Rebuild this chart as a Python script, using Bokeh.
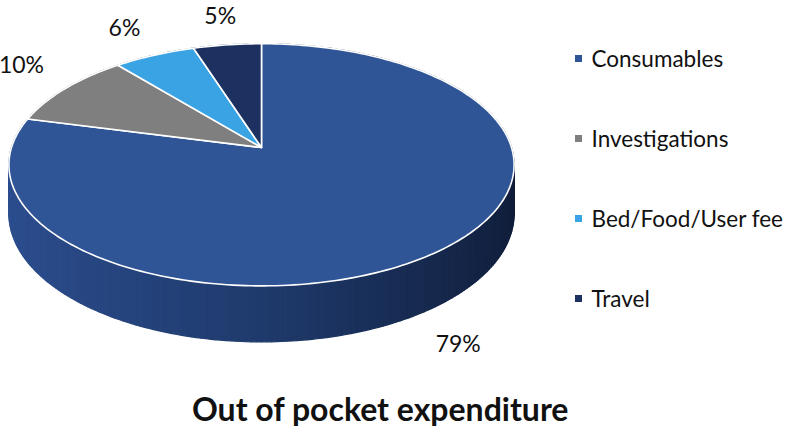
import numpy as np
from bokeh.plotting import figure
from bokeh.models import Range1d
from bokeh.core.properties import value
from bokeh.embed import file_html
from bokeh.resources import INLINE

# ---------------- data ----------------
categories = ["Consumables", "Investigations", "Bed/Food/User fee", "Travel"]
shares = [79, 10, 6, 5]
pct_labels = ["79%", "10%", "6%", "5%"]
colors = ["#2f5597", "#7f7f7f", "#3aa3e3", "#1c315f"]
title_text = "Out of pocket expenditure"

# ---------------- layout / style ----------------
W, H = 787, 431
CX, CY = 261.0, 147.0      # projected pie centre (page pixels)
A, B = 250.0, 118.6        # horizontal / vertical radius of the top face
P = 0.143                  # perspective strength
DEPTH = 48.0               # thickness of the pie
LABEL_NUDGE = [(24, 36), (-44, -24), (-30, -28), (-7, -30)]
FONT = "Lato"
SIDE_LIGHT = np.array([0x2c, 0x4e, 0x8f])
SIDE_MID = np.array([0x1f, 0x3a, 0x6c])
SIDE_DARK = np.array([0x10, 0x1d, 0x39])


def proj(X, Z):
    d = 1.0 + P * Z
    return CX + A * X / d, CY - B * Z / d


def hexcol(c):
    c = np.clip(np.round(c), 0, 255).astype(int)
    return "#%02x%02x%02x" % tuple(c)


p = figure(width=W, height=H, x_range=Range1d(0, W), y_range=Range1d(H, 0),
           output_backend="svg", toolbar_location=None, min_border=0)
p.axis.visible = False
p.grid.visible = False
p.outline_line_color = None
p.background_fill_color = "white"
p.border_fill_color = "white"

# ---------------- side of the cylinder ----------------
N = 360
phis = np.linspace(0, 2 * np.pi, N + 1)
xs_side, ys_side, cs_side = [], [], []
for i in range(N):
    f0, f1 = phis[i], phis[i + 1]
    X0, Z0 = np.sin(f0), np.cos(f0)
    X1, Z1 = np.sin(f1), np.cos(f1)
    tx0, ty0 = proj(X0, Z0)
    tx1, ty1 = proj(X1, Z1)
    by0 = ty0 + DEPTH / (1 + P * Z0)
    by1 = ty1 + DEPTH / (1 + P * Z1)
    xs_side.append([tx0, tx1, tx1, tx0])
    ys_side.append([ty0, ty1, by1, by0])
    xm = (X0 + X1) / 2
    if xm < 0:
        c = SIDE_MID + (SIDE_LIGHT - SIDE_MID) * (-xm)
    else:
        c = SIDE_MID + (SIDE_DARK - SIDE_MID) * xm
    cs_side.append(hexcol(c))

p.patches(xs=xs_side, ys=ys_side, fill_color=cs_side, line_color=cs_side, line_width=1.2)

# ---------------- top face slices ----------------
total = float(sum(shares))
cum = np.concatenate([[0.0], np.cumsum(shares)]) / total * 2 * np.pi
xs_top, ys_top = [], []
label_x, label_y = [], []
for i in range(len(shares)):
    a0, a1 = cum[i], cum[i + 1]
    n = max(4, int(300 * (a1 - a0) / (2 * np.pi)))
    ang = np.linspace(a0, a1, n)
    ex, ey = proj(np.sin(ang), np.cos(ang))
    xs_top.append([CX] + list(ex))
    ys_top.append([CY] + list(ey))
    m = (a0 + a1) / 2
    mx, my = proj(np.sin(m), np.cos(m))
    if np.cos(m) < 0:
        my += DEPTH / (1 + P * np.cos(m))
    label_x.append(mx + LABEL_NUDGE[i][0])
    label_y.append(my + LABEL_NUDGE[i][1])

p.patches(xs=xs_top, ys=ys_top, fill_color=colors, line_color="white", line_width=1.6,
          line_join="round")

# ---------------- percentage labels ----------------
p.text(x=label_x, y=label_y, text=pct_labels, text_align="center", text_baseline="middle",
       text_font=value(FONT), text_font_size="23px", text_color="#111111")

# ---------------- legend ----------------
leg_y = [58 + 80 * i for i in range(len(categories))]
p.scatter(x=[578] * len(categories), y=leg_y, marker="square", size=7,
          fill_color=colors, line_color=None)
p.text(x=[591] * len(categories), y=leg_y, text=categories, text_align="left",
       text_baseline="middle", text_font=value(FONT), text_font_size="22.5px",
       text_color="#111111")

# ---------------- title ----------------
p.text(x=[380], y=[408], text=[title_text], text_align="center", text_baseline="middle",
       text_font=value(FONT), text_font_size="32px", text_font_style="bold",
       text_color="#111111")

open("out.html", "w").write(file_html(p, INLINE))
